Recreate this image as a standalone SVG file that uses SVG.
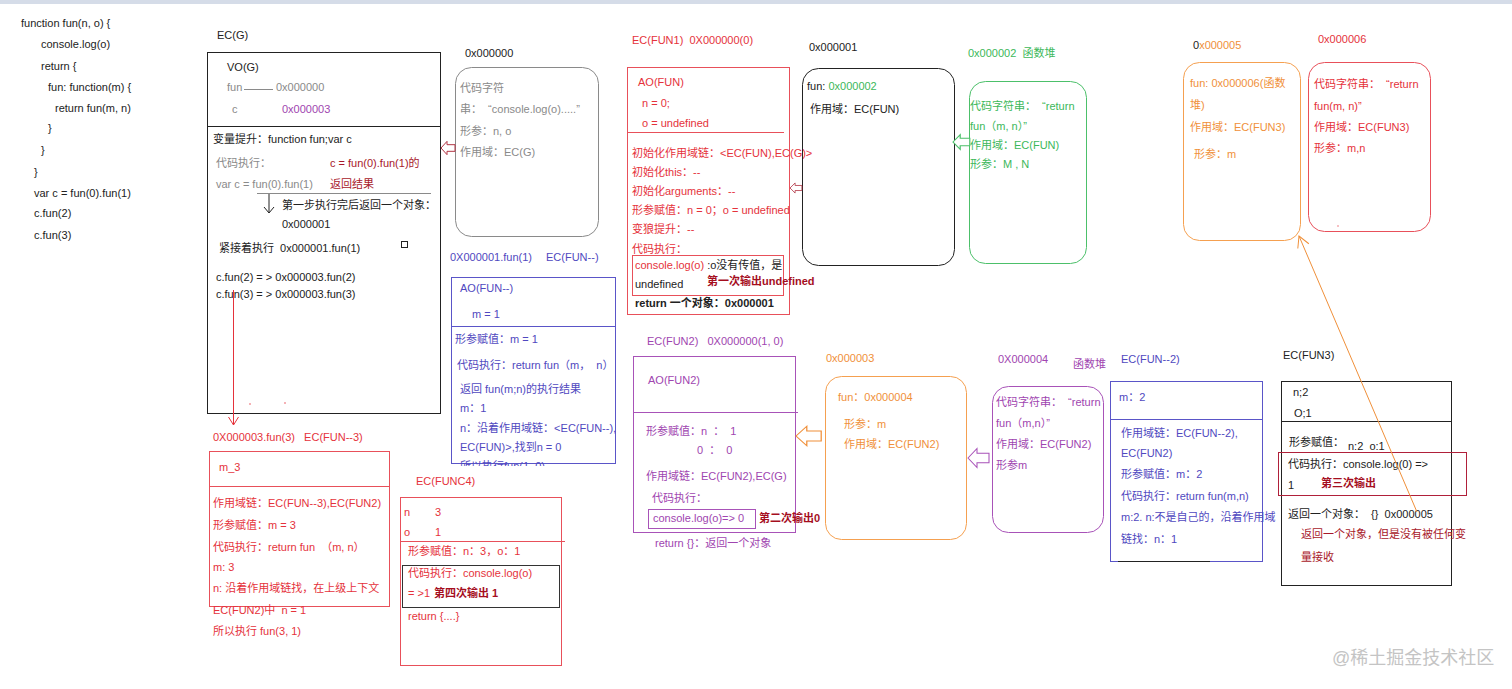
<svg xmlns="http://www.w3.org/2000/svg" width="1512" height="689" viewBox="0 0 1512 689" xml:space="preserve">
<style>
text{font-family:"Liberation Sans","Noto Sans CJK SC",sans-serif;font-size:11px;white-space:pre}
.k{fill:#222}
.g{fill:#8a8a8a}
.r{fill:#e5323b}
.dr{fill:#a50e1e;font-weight:bold}
.dr2{fill:#a8182a}
.p{fill:#a045b0}
.b{fill:#5048c0}
.o{fill:#f0903a}
.gr{fill:#3cb85a}
.box{fill:none;stroke-width:1}
.sk{stroke:#222}
.sg{stroke:#8a8a8a}
.sr{stroke:#e8505a}
.sp{stroke:#a852b8}
.sb{stroke:#5a55c8}
.so{stroke:#f5a050}
.sgr{stroke:#4cc06a}
.sdr{stroke:#b0203a}
.wm{fill:#c4c4c4;font-size:18px}
</style>
<defs>
<path id="harrow" d="M0,0 L6,-7 L6,-3.5 L14,-3.5 L14,3.5 L6,3.5 L6,7 Z"/>
<marker id="mr" markerWidth="12" markerHeight="12" refX="10" refY="6" orient="auto" markerUnits="userSpaceOnUse">
<path d="M2,1 L10,6 L2,11" fill="none" stroke="#e5323b" stroke-width="1"/>
</marker>
<marker id="mo" markerWidth="14" markerHeight="14" refX="12" refY="7" orient="auto" markerUnits="userSpaceOnUse">
<path d="M1,1 L12,7 L1,13" fill="none" stroke="#f0903a" stroke-width="1"/>
</marker>
<clipPath id="clipfun"><rect x="440" y="0" width="200" height="466"/></clipPath>
</defs>
<rect x="0" y="0" width="1512" height="689" fill="#ffffff"/>
<rect x="0" y="0" width="1512" height="4" fill="#d5dce8"/>
<g id="code" class="k">
<text x="21" y="27">function fun(n, o) {</text>
<text x="41" y="48">console.log(o)</text>
<text x="41" y="70">return {</text>
<text x="48" y="91">fun: function(m) {</text>
<text x="55" y="112">return fun(m, n)</text>
<text x="48" y="132">}</text>
<text x="41" y="154">}</text>
<text x="34" y="176">}</text>
<text x="34" y="197">var c = fun(0).fun(1)</text>
<text x="34" y="217">c.fun(2)</text>
<text x="34" y="239">c.fun(3)</text>
</g>
<g id="ecg">
<text class="k" x="217" y="39">EC(G)</text>
<rect class="box sk" x="207.5" y="52.5" width="233" height="361"/>
<line class="sk" x1="207.5" y1="126.5" x2="441" y2="126.5"/>
<text class="k" x="227" y="71">VO(G)</text>
<text class="g" x="227" y="91">fun</text>
<line class="sg" x1="244" y1="89.5" x2="273" y2="89.5"/>
<text class="g" x="276" y="91">0x000000</text>
<text class="g" x="232" y="113">c</text>
<text class="p" x="282" y="113">0x000003</text>
<text class="k" x="213" y="143">变量提升：function fun;var c</text>
<text class="g" x="216" y="167">代码执行：</text>
<text class="dr2" x="330" y="167">c = fun(0).fun(1)的</text>
<text class="g" x="216" y="188">var c = fun(0).fun(1)</text>
<text class="dr2" x="330" y="188">返回结果</text>
<line class="sg" x1="257" y1="193.5" x2="431" y2="193.5"/>
<text class="k" x="282" y="209">第一步执行完后返回一个对象：</text>
<text class="k" x="282" y="228">0x000001</text>
<text class="k" x="219" y="252">紧接着执行  0x000001.fun(1)</text>
<rect class="box sk" x="401.5" y="241.5" width="6" height="6"/>
<text class="k" x="216" y="281">c.fun(2) = &gt; 0x000003.fun(2)</text>
<text class="k" x="216" y="298">c.fun(3) = &gt; 0x000003.fun(3)</text>
<circle cx="250" cy="404" r="0.8" fill="#e8505a"/>
<circle cx="285" cy="403" r="0.8" fill="#e8505a"/>
</g>
<g id="heap0">
<text class="k" x="465" y="57">0x000000</text>
<rect class="box sg" x="455.5" y="67.5" width="143" height="169" rx="16"/>
<text class="g" x="460" y="92">代码字符</text>
<text class="g" x="460" y="113">串：  “console.log(o).....”</text>
<text class="g" x="460" y="135">形参：n, o</text>
<text class="g" x="460" y="156">作用域：EC(G)</text>
</g>
<g id="ecfunmm">
<text class="b" x="450" y="261">0X000001.fun(1)</text>
<text class="b" x="546" y="261">EC(FUN--)</text>
<rect class="box sb" x="451.5" y="277.5" width="164" height="186"/>
<line class="sb" x1="451.5" y1="326.5" x2="615.5" y2="326.5"/>
<text class="b" x="460" y="292">AO(FUN--)</text>
<text class="b" x="472" y="318">m = 1</text>
<text class="b" x="455" y="343">形参赋值：m = 1</text>
<text class="b" x="457" y="369">代码执行：return fun（m，  n）</text>
<text class="b" x="460" y="393">返回 fun(m;n)的执行结果</text>
<text class="b" x="460" y="412">m：1</text>
<text class="b" x="460" y="432">n：沿着作用域链：&lt;EC(FUN--),</text>
<text class="b" x="460" y="451">EC(FUN)&gt;,找到n = 0</text>
<text class="b" x="460" y="470" clip-path="url(#clipfun)">所以执行fun(1, 0)</text>
</g>
<g id="ecfun1">
<text class="r" x="632" y="44">EC(FUN1)  0X000000(0)</text>
<rect class="box sr" x="627.5" y="67.5" width="162" height="247"/>
<line class="sr" x1="627.5" y1="132.5" x2="784" y2="132.5"/>
<text class="r" x="638" y="86">AO(FUN)</text>
<text class="r" x="642" y="107">n = 0;</text>
<text class="r" x="642" y="127">o = undefined</text>
<text class="r" x="632" y="157">初始化作用域链：&lt;EC(FUN),EC(G)&gt;</text>
<text class="r" x="632" y="176">初始化this：--</text>
<text class="r" x="632" y="195">初始化arguments：--</text>
<text class="r" x="632" y="214">形参赋值：n = 0；o = undefined</text>
<text class="r" x="632" y="233">变狼提升：--</text>
<text class="r" x="632" y="253">代码执行：</text>
<rect class="box sr" x="632.5" y="255.5" width="151" height="40"/>
<text x="635" y="269"><tspan class="r">console.log(o)</tspan><tspan class="k"> :o没有传值，是</tspan></text>
<text class="k" x="635" y="288">undefined</text>
<text class="dr" x="707" y="285">第一次输出undefined</text>
<text class="k" x="635" y="307" font-weight="bold">return 一个对象：0x000001</text>
</g>
<g id="obj1">
<text class="k" x="809" y="51">0x000001</text>
<rect class="box sk" x="802.5" y="68.5" width="152" height="197" rx="16"/>
<text x="807" y="90"><tspan class="k">fun: </tspan><tspan class="gr">0x000002</tspan></text>
<text class="k" x="810" y="113">作用域：EC(FUN)</text>
</g>
<g id="heap2">
<text class="gr" x="968" y="57">0x000002  函数堆</text>
<rect class="box sgr" x="969.5" y="81.5" width="117" height="182" rx="16"/>
<text class="gr" x="970" y="110">代码字符串：  “return</text>
<text class="gr" x="970" y="130">fun（m, n）”</text>
<text class="gr" x="970" y="149">作用域：EC(FUN)</text>
<text class="gr" x="970" y="168">形参：M , N</text>
</g>
<g id="obj5">
<text x="1193" y="49"><tspan class="k">0</tspan><tspan class="o">x000005</tspan></text>
<rect class="box so" x="1183.5" y="62.5" width="117" height="178" rx="16"/>
<text class="o" x="1190" y="87">fun: 0x000006(函数</text>
<text class="o" x="1190" y="109">堆)</text>
<text class="o" x="1190" y="131">作用域：EC(FUN3)</text>
<text class="o" x="1194" y="158">形参：m</text>
</g>
<g id="heap6">
<text class="r" x="1318" y="43">0x000006</text>
<rect class="box sr" x="1308.5" y="62.5" width="122" height="169" rx="16"/>
<text class="r" x="1314" y="88">代码字符串：  “return</text>
<text class="r" x="1314" y="110">fun(m, n)”</text>
<text class="r" x="1314" y="131">作用域：EC(FUN3)</text>
<text class="r" x="1314" y="152">形参：m,n</text>
<circle cx="1338" cy="226" r="0.7" fill="#e8505a"/>
</g>
<g id="ecfunm3">
<text class="r" x="213" y="441">0X000003.fun(3)   EC(FUN--3)</text>
<rect class="box sr" x="209.5" y="451.5" width="180" height="155"/>
<line class="sr" x1="209.5" y1="486.5" x2="389.5" y2="486.5"/>
<text class="r" x="219" y="471">m_3</text>
<text class="r" x="213" y="507">作用域链：EC(FUN--3),EC(FUN2)</text>
<text class="r" x="213" y="529">形参赋值：m = 3</text>
<text class="r" x="213" y="551">代码执行：return fun  （m, n）</text>
<text class="r" x="213" y="571">m: 3</text>
<text class="r" x="213" y="592">n: 沿着作用域链找，在上级上下文</text>
<text class="r" x="213" y="614">EC(FUN2)中  n = 1</text>
<text class="r" x="213" y="635">所以执行 fun(3, 1)</text>
</g>
<g id="ecfunc4">
<text class="r" x="416" y="485">EC(FUNC4)</text>
<rect class="box sr" x="400.5" y="497.5" width="161" height="168"/>
<line class="sr" x1="400.5" y1="541.5" x2="565" y2="541.5"/>
<text class="r" x="404" y="516">n</text>
<text class="r" x="435" y="516">3</text>
<text class="r" x="404" y="536">o</text>
<text class="r" x="435" y="536">1</text>
<text class="r" x="408" y="555">形参赋值：n：3，o：1</text>
<rect class="box" stroke="#333" x="402.5" y="565.5" width="157" height="42"/>
<text class="r" x="408" y="577">代码执行：console.log(o)</text>
<text class="r" x="408" y="597">= &gt;1</text>
<text class="dr" x="434" y="597">第四次输出 1</text>
<text class="r" x="408" y="620">return {....}</text>
</g>
<g id="ecfun2">
<text class="p" x="647" y="345">EC(FUN2)   0X000000(1, 0)</text>
<rect class="box sp" x="633.5" y="356.5" width="162" height="176"/>
<line class="sp" x1="633.5" y1="412.5" x2="798" y2="412.5"/>
<text class="p" x="648" y="384">AO(FUN2)</text>
<text class="p" x="646" y="435">形参赋值：n  ：  1</text>
<text class="p" x="697" y="454">0  ：  0</text>
<text class="p" x="646" y="480">作用域链：EC(FUN2),EC(G)</text>
<text class="p" x="652" y="502">代码执行：</text>
<rect class="box sp" x="648.5" y="509.5" width="107" height="19"/>
<text class="p" x="653" y="522">console.log(o)=&gt; 0</text>
<text class="dr" x="759" y="522">第二次输出0</text>
<text class="p" x="655" y="547">return {}：返回一个对象</text>
</g>
<g id="obj3">
<text class="o" x="826" y="362">0x000003</text>
<rect class="box so" x="825.5" y="376.5" width="141" height="163" rx="16"/>
<text class="o" x="838" y="401">fun：0x000004</text>
<text class="o" x="844" y="428">形参：m</text>
<text class="o" x="844" y="448">作用域：EC(FUN2)</text>
</g>
<g id="heap4">
<text class="p" x="998" y="363">0X000004</text>
<text class="p" x="1073" y="368">函数堆</text>
<rect class="box sp" x="992.5" y="386.5" width="111" height="146" rx="16"/>
<text class="p" x="996" y="406">代码字符串：  “return</text>
<text class="p" x="996" y="427">fun（m,n）”</text>
<text class="p" x="996" y="448">作用域：EC(FUN2)</text>
<text class="p" x="996" y="469">形参m</text>
</g>
<g id="ecfunm2">
<text class="b" x="1121" y="363">EC(FUN--2)</text>
<rect class="box sb" x="1110.5" y="381.5" width="152" height="180"/>
<line class="sb" x1="1110.5" y1="419.5" x2="1263" y2="419.5"/>
<line stroke="#222" x1="1118" y1="561.5" x2="1210" y2="561.5"/>
<text class="b" x="1119" y="401">m：2</text>
<text class="b" x="1121" y="437">作用域链：EC(FUN--2),</text>
<text class="b" x="1121" y="457">EC(FUN2)</text>
<text class="b" x="1121" y="478">形参赋值：m：2</text>
<text class="b" x="1121" y="500">代码执行：return fun(m,n)</text>
<text class="b" x="1121" y="521">m:2. n:不是自己的，沿着作用域</text>
<text class="b" x="1121" y="543">链找：n：1</text>
</g>
<g id="ecfun3">
<text class="k" x="1283" y="359">EC(FUN3)</text>
<rect class="box sk" x="1281.5" y="381.5" width="170" height="204"/>
<line class="sk" x1="1281.5" y1="421.5" x2="1451.5" y2="421.5"/>
<text class="k" x="1293" y="396" font-size="12">n;2</text>
<text class="k" x="1294" y="417" font-size="12">O;1</text>
<text class="k" x="1289" y="446">形参赋值：</text>
<text class="k" x="1348" y="450" font-size="12">n:2  o:1</text>
<rect class="box sdr" x="1278.5" y="452.5" width="188" height="43"/>
<text class="k" x="1288" y="468" font-size="13">代码执行：console.log(0) =&gt;</text>
<text class="k" x="1288" y="489" font-size="12">1</text>
<text class="dr" x="1321" y="487">第三次输出</text>
<text class="k" x="1288" y="518">返回一个对象：  {}  0x000005</text>
<text class="dr2" x="1301" y="538">返回一个对象，但是没有被任何变</text>
<text class="dr2" x="1301" y="561">量接收</text>
</g>
<g id="connectors">
<path d="M269,194 L269,213 M264,207 L269,213 L274,207" fill="none" stroke="#222"/>
<path d="M233.5,290 L233.5,425" fill="none" stroke="#e5323b" marker-end="url(#mr)"/>
<path d="M1417,512 L1299,236" fill="none" stroke="#f0903a" marker-end="url(#mo)"/>
<use href="#harrow" transform="translate(441,148) scale(1,0.95)" fill="#fff" stroke="#b03040" stroke-width="1"/>
<use href="#harrow" transform="translate(790,188) scale(0.85,0.72)" fill="#fff" stroke="#b03040" stroke-width="1"/>
<use href="#harrow" transform="translate(953,142) scale(1.2,1.05)" fill="#fff" stroke="#4cc06a" stroke-width="1"/>
<use href="#harrow" transform="translate(796,436) scale(1.8,1.4)" fill="#fff" stroke="#f0903a" stroke-width="0.7"/>
<use href="#harrow" transform="translate(968,458) scale(1.5,1.35)" fill="#fff" stroke="#a852b8" stroke-width="0.7"/>
</g>
<text class="wm" x="1332" y="664">@稀土掘金技术社区</text>
</svg>
